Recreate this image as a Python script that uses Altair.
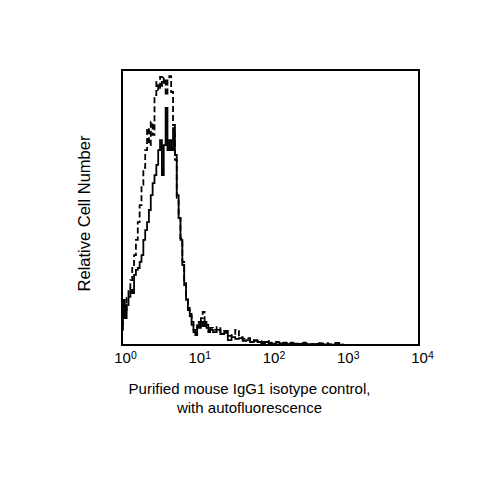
import altair as alt
import numpy as np
import pandas as pd

# channel grid (log10 of fluorescence): fine near the peak, coarser in the tail
log_fine = np.round(np.arange(0.0, 1.2001, 0.025), 3)
log_tail = np.round(np.arange(1.25, 4.0001, 0.05), 3)
log_channels = list(log_fine) + list(log_tail)

# relative cell number (0-100 = bottom-top of plot)
stained_fine = [5.5, 16.4, 9.8, 14.5, 17.5, 20.0, 18.9, 25.5, 27.3, 28.0, 30.2, 32.7,
                38.2, 41.8, 44.7, 49.1, 54.5, 58.9, 61.8, 65.5, 70.9, 74.5, 61.8, 72.7,
                86.2, 70.9, 74.5, 70.9, 78.9, 69.1, 54.5, 46.2, 38.2, 29.1, 21.8, 16.4,
                12.7, 10.5, 7.3, 4.7, 3.6, 6.9, 6.2, 8.4, 6.9, 8.4, 6.2, 4.7, 5.5]
stained_tail = [4.7, 5.5, 4.0, 4.4, 1.8, 2.9, 2.2, 2.5, 1.5, 1.8, 1.1, 1.5, 1.1, 0.7,
                1.1, 0.7, 0.4, 0.9, 0.4, 0.7, 0.3, 0.6, 0.3, 0.2, 0.6, 0.3, 0.2, 0.1,
                0.4, 0.1, 0.2, 0.1, 0.1, 0.8, 0.1, 0.0,
                0.0, 0.0, 0.0, 0.0, 0.0, 0.0, 0.0, 0.0, 0.0, 0.0,
                0.0, 0.0, 0.0, 0.0, 0.0, 0.0, 0.0, 0.0, 0.0, 0.0]
control_fine = [7.3, 14.5, 12.7, 17.1, 20.7, 23.6, 28.0, 32.7, 38.2, 44.7, 50.9, 58.2,
                64.4, 70.9, 78.9, 72.7, 81.1, 76.4, 90.9, 95.6, 92.7, 97.5, 94.2, 97.1,
                90.9, 96.7, 97.8, 92.0, 80.0, 67.3, 53.5, 46.2, 38.9, 30.2, 22.5, 17.1,
                13.5, 11.3, 8.4, 5.5, 4.7, 8.4, 7.3, 9.8, 12.0, 8.4, 7.3, 5.5, 6.2]
control_tail = [5.5, 6.5, 4.7, 5.1, 3.3, 3.6, 5.5, 2.9, 2.2, 2.5, 1.5, 1.8, 1.5, 1.1,
                1.5, 0.9, 0.7, 1.1, 0.7, 0.9, 0.5, 0.9, 0.5, 0.4, 0.9, 0.5, 0.4, 0.3,
                0.7, 0.6, 0.7, 0.3, 0.2, 0.3, 0.1, 0.0,
                0.0, 0.0, 0.0, 0.0, 0.0, 0.0, 0.0, 0.0, 0.0, 0.0,
                0.0, 0.0, 0.0, 0.0, 0.0, 0.0, 0.0, 0.0, 0.0, 0.0]

tick_values = [1, 10, 100, 1000, 10000]
tick_exponents = ["0", "1", "2", "3", "4"]

W, H = 297, 275

stained = stained_fine + stained_tail
control = control_fine + control_tail

fl = [10 ** v for v in log_channels]
df = pd.concat([
    pd.DataFrame({"fl": fl, "count": stained, "series": "stained", "order": range(len(fl))}),
    pd.DataFrame({"fl": fl, "count": control, "series": "control", "order": range(len(fl))}),
])
ticks_df = pd.DataFrame({"fl": tick_values, "exp": tick_exponents})

xscale = alt.Scale(type="log", domain=[1, 10000], nice=False)
x = alt.X("fl:Q", scale=xscale,
          axis=alt.Axis(values=tick_values, labelExpr="'10'", ticks=False, domain=False,
                        grid=False, labelFont="Liberation Sans", labelFontSize=15,
                        labelColor="black", labelPadding=5, labelFlush=False,
                        title=["Purified mouse IgG1 isotype control,", "with autofluorescence"],
                        titleFont="Liberation Sans", titleFontSize=15, titleFontWeight="normal",
                        titleColor="black", titlePadding=16, titleLineHeight=19,
                        titleX=127, titleAlign="center", titleAnchor="start"))
y = alt.Y("count:Q",
          scale=alt.Scale(domain=[0, 100], nice=False, zero=True),
          axis=alt.Axis(labels=False, ticks=False, domain=False, grid=False,
                        title="Relative Cell Number", titleFont="Liberation Sans",
                        titleFontSize=16.5, titleFontWeight="normal", titleColor="black",
                        titlePadding=30, titleY=143, titleAlign="center", titleAnchor="start"))

solid = alt.Chart(df).transform_filter(alt.datum.series == "stained").mark_line(
    interpolate="step", color="black", strokeWidth=1.8, clip=True
).encode(x=x, y=y, order="order:Q")

dashed = alt.Chart(df).transform_filter(alt.datum.series == "control").mark_line(
    interpolate="step", color="black", strokeWidth=1.8, strokeDash=[6, 3], clip=True
).encode(x=x, y=y, order="order:Q")

exps = alt.Chart(ticks_df).mark_text(
    font="Liberation Sans", fontSize=10.5, color="black", align="left", baseline="top", dx=9
).encode(x=alt.X("fl:Q", scale=xscale), y=alt.value(H + 6), text="exp:N")

chart = alt.layer(dashed, solid, exps).properties(
    width=W, height=H,
    autosize=alt.AutoSizeParams(type="none"),
    padding={"left": 114, "top": 62, "right": 60, "bottom": 80},
).configure(background="white").configure_view(stroke="black", strokeWidth=2)

chart.save("out.html", embed_options={"renderer": "svg", "actions": False})
